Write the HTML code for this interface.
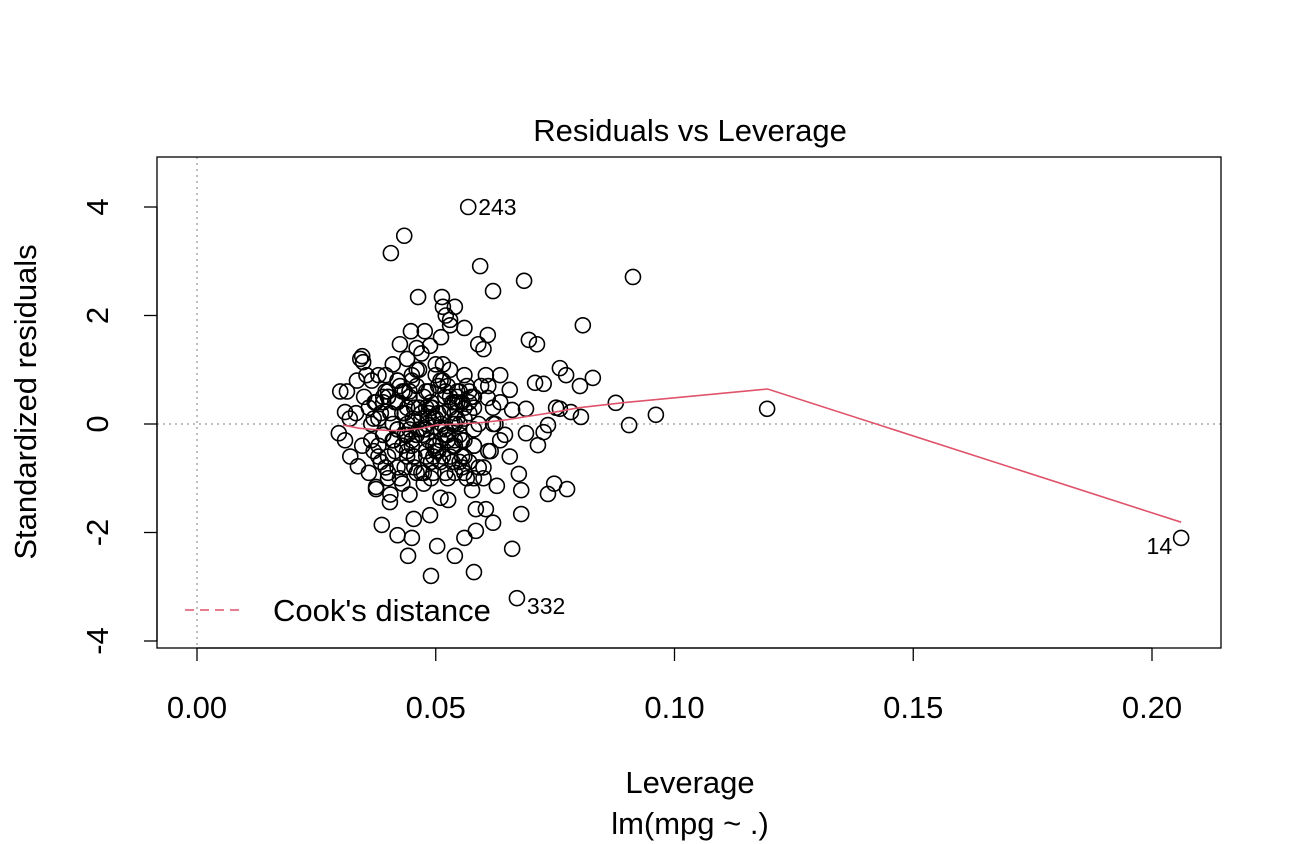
<!DOCTYPE html>
<html><head><meta charset="utf-8"><style>
html,body{margin:0;padding:0;background:#fff}
svg{display:block;font-family:"Liberation Sans",Arial,sans-serif}
</style></head><body>
<svg id="chart" width="1302" height="844" viewBox="0 0 1302 844" xmlns="http://www.w3.org/2000/svg">
<rect x="0" y="0" width="1302" height="844" fill="#fff"/>
<text x="690" y="141" font-size="31" text-anchor="middle">Residuals vs Leverage</text>
<text x="690" y="793" font-size="31" text-anchor="middle">Leverage</text>
<text x="690" y="834" font-size="31" text-anchor="middle">lm(mpg ~ .)</text>
<text transform="translate(36,402) rotate(-90)" font-size="31" text-anchor="middle">Standardized residuals</text>
<g id="grid"></g>
<g id="axes"></g>
<g id="pts"></g>
<g id="smooth"></g>
<g id="labels"></g>
<rect x="157" y="157" width="1064" height="491" fill="none" stroke="#000" stroke-width="1.3"/>
<g>
<line x1="185" y1="610" x2="242" y2="610" stroke="#DF536B" stroke-width="1.5" stroke-dasharray="9,6"/>
<text x="273" y="621" font-size="31">Cook's distance</text>
</g>
</svg>
<script>
const xTicks=[0,0.05,0.10,0.15,0.20];
const xTickLabels=["0.00","0.05","0.10","0.15","0.20"];
const yTicks=[-4,-2,0,2,4];
const yTickLabels=["-4","-2","0","2","4"];
const leverage=[0.0568,0.0434,0.0406,0.0593,0.0913,0.0685,0.062,0.0463,0.0513,0.054,0.0515,0.0521,0.053,0.053,0.0808,0.056,0.0448,0.0477,0.0609,0.0511,0.0695,0.0712,0.0589,0.060,0.0425,0.0488,0.0346,0.0348,0.076,0.0773,0.0829,0.0802,0.0877,0.0961,0.0905,0.1194,0.0804,0.076,0.2061,0.067,0.049,0.058,0.066,0.054,0.0442,0.0503,0.056,0.045,0.042,0.0387,0.0584,0.062,0.0679,0.0605,0.0584,0.0454,0.0488,0.0674,0.0679,0.0735,0.0748,0.0775,0.0628,0.0576,0.0526,0.051,0.0404,0.0375,0.0726,0.0735,0.0714,0.0689,0.0635,0.0752,0.0783,0.0726,0.0708,0.0655,0.0635,0.066,0.0689,0.0609,
0.030,0.0314,0.031,0.032,0.0297,0.031,0.0321,0.0337,0.0346,0.0335,0.0366,0.035,
0.036,0.037,0.038,0.039,0.040,0.041,0.042,0.043,0.044,0.045,0.046,0.047,0.048,0.049,0.050,0.051,0.052,0.053,0.054,0.055,0.056,0.057,0.058,
0.036,0.037,0.038,0.039,0.040,0.041,0.042,0.043,0.044,0.045,0.046,0.047,0.048,0.049,0.050,0.051,0.052,0.053,0.054,0.055,0.056,0.057,0.058,
0.0365,0.0375,0.0385,0.0395,0.0405,0.0415,0.0425,0.0435,0.0445,0.0455,0.0465,0.0475,0.0485,0.0495,0.0505,0.0515,0.0525,0.0535,0.0545,0.0555,0.0565,
0.0365,0.0375,0.0385,0.0395,0.0405,0.0415,0.0425,0.0435,0.0445,0.0455,0.0465,0.0475,0.0485,0.0495,0.0505,0.0515,0.0525,0.0535,0.0545,0.0555,0.0565,
0.038,0.040,0.042,0.044,0.046,0.048,0.050,0.052,0.054,0.056,0.058,0.060,0.062,
0.038,0.040,0.042,0.044,0.046,0.048,0.050,0.052,0.054,0.056,0.058,0.060,0.062,
0.039,0.041,0.043,0.045,0.047,0.049,0.051,0.053,0.055,0.057,0.059,0.061,
0.039,0.041,0.043,0.045,0.047,0.049,0.051,0.053,0.055,0.057,0.059,0.061,
0.040,0.042,0.044,0.046,0.048,0.050,0.052,0.054,0.056,0.058,
0.040,0.042,0.044,0.046,0.048,0.050,0.052,0.054,0.056,0.058,
0.0435,0.0455,0.0475,0.0495,0.0515,0.0535,0.0555,0.0445,0.0465,0.0485,0.0505,0.0525,0.0545,
0.0435,0.0455,0.0475,0.0495,0.0515,0.0535,0.0555,0.0445,0.0465,0.0485,0.0505,0.0525,0.0545,
0.0605,0.0625,0.0645,0.0615,0.0635,0.0595,0.0575,0.0655,0.0342,0.0355,0.0372,0.0333,0.0395,0.0412,0.0452,0.0472,0.0492,0.0512];
const residual=[4.0,3.47,3.15,2.91,2.71,2.64,2.45,2.34,2.34,2.16,2.16,2.0,1.92,1.82,1.82,1.77,1.71,1.71,1.64,1.6,1.55,1.47,1.47,1.38,1.47,1.44,1.25,1.14,1.03,0.9,0.85,0.7,0.39,0.17,-0.02,0.28,0.13,0.28,-2.1,-3.21,-2.8,-2.73,-2.3,-2.43,-2.43,-2.25,-2.1,-2.1,-2.05,-1.86,-1.97,-1.82,-1.66,-1.57,-1.57,-1.75,-1.68,-0.92,-1.22,-1.29,-1.1,-1.2,-1.14,-1.22,-1.4,-1.36,-1.44,-1.16,-0.15,-0.02,-0.39,-0.17,-0.3,0.3,0.22,0.74,0.76,0.63,0.9,0.26,0.28,0.48,
0.6,0.6,0.22,0.1,-0.17,-0.3,-0.6,-0.78,-0.4,0.8,0.8,0.5,
0.3,-0.5,0.9,-0.2,0.6,1.1,-0.8,0.2,1.2,-0.3,0.7,1.3,-0.6,0.4,0.9,-0.1,0.5,1.0,-0.4,0.6,0.3,-0.7,0.5,
-0.9,0.1,-0.4,0.5,-1.0,-0.3,0.4,-1.1,-0.2,0.8,-0.9,0.2,-0.5,-1.0,0.1,-0.7,-0.2,0.3,-0.9,0.0,-0.6,0.2,-0.4,
0.0,0.4,-0.7,0.9,0.2,-0.5,0.7,-0.2,0.5,-0.8,0.3,-0.1,0.6,-0.6,0.2,0.8,-0.3,0.4,0.1,-0.8,0.7,
-0.3,-1.2,0.2,-0.8,-1.3,0.4,-1.0,0.6,-1.3,-0.6,1.0,-1.1,0.1,-0.9,-0.5,1.1,-1.0,-0.4,0.5,-0.3,-1.0,
0.1,0.5,-0.1,0.0,-0.2,0.3,0.1,-0.1,0.2,0.1,-0.4,-0.8,0.0,
-0.6,-0.9,0.8,-0.6,1.0,0.0,-0.5,-0.9,0.0,-0.9,0.3,-1.0,0.3,
0.4,0.0,0.6,-0.4,0.1,0.3,-0.3,0.5,-0.2,0.4,0.0,-0.5,
-0.2,-0.3,-0.4,0.9,-0.9,-0.7,0.8,-0.6,-0.7,0.6,-0.8,0.7,
-0.6,0.8,-0.5,1.4,-0.1,1.1,0.6,-0.3,0.9,-1.0,
0.5,-0.1,0.3,-0.2,0.6,-0.4,-0.2,0.4,-0.3,-0.1,
0.2,-0.6,0.5,-0.4,0.2,-0.7,0.4,-0.1,0.3,-0.3,0.7,-0.2,0.4,
-0.8,0.3,-0.9,0.1,-0.6,0.0,-0.6,0.6,-0.1,0.2,-0.5,0.7,0.6,
0.9,0.0,-0.2,-0.5,0.4,0.7,0.5,-0.6,1.2,0.9,0.4,0.2,0.6,-0.3,0.1,-0.2,0.3,0.0];
const smoothLev=[0.0306,0.034,0.040,0.043,0.047,0.050,0.055,0.060,0.065,0.070,0.075,0.080,0.090,0.1195,0.2061];
const smoothRes=[-0.02,-0.08,-0.12,-0.12,-0.08,-0.02,0.0,0.03,0.08,0.15,0.22,0.3,0.4,0.645,-1.81];
const labelNames=["243","332","14"];
const labelLev=[0.0568,0.067,0.2061];
const labelRes=[4.0,-3.21,-2.1];

const NS="http://www.w3.org/2000/svg";
const X=v=>197+v*4775;
const Y=v=>424-v*54.25;
function mk(tag,attrs,parent){const e=document.createElementNS(NS,tag);for(const k in attrs)e.setAttribute(k,attrs[k]);parent.appendChild(e);return e;}
const axes=document.getElementById('axes'),grid=document.getElementById('grid'),pts=document.getElementById('pts'),sm=document.getElementById('smooth'),lab=document.getElementById('labels');
let gl=mk('line',{x1:X(0),x2:X(0),y1:157,y2:648,stroke:'#aaa','stroke-width':1.5,'stroke-dasharray':'2,4'},grid);


gl=mk('line',{x1:157,x2:1221,y1:Y(0),y2:Y(0),stroke:'#aaa','stroke-width':1.5,'stroke-dasharray':'2,4'},grid);


let ax=mk('line',{x1:X(xTicks[0]),x2:X(xTicks[xTicks.length-1]),y1:648,y2:648,stroke:'#000','stroke-width':1.3},axes);


xTicks.forEach((t,i)=>{
 const l=mk('line',{x1:X(t),x2:X(t),y1:648,y2:661,stroke:'#000','stroke-width':1.3},axes);
 
 
 const tx=mk('text',{x:X(t),y:718,'font-size':31,'text-anchor':'middle'},axes);tx.textContent=xTickLabels[i];
 
 
});
ax=mk('line',{x1:157,x2:157,y1:Y(yTicks[0]),y2:Y(yTicks[yTicks.length-1]),stroke:'#000','stroke-width':1.3},axes);


yTicks.forEach((t,i)=>{
 const l=mk('line',{x1:144,x2:157,y1:Y(t),y2:Y(t),stroke:'#000','stroke-width':1.3},axes);
 
 
 const tx=mk('text',{transform:`translate(108,${Y(t)}) rotate(-90)`,'font-size':31,'text-anchor':'middle'},axes);tx.textContent=yTickLabels[i];
 
 
});
leverage.forEach((v,i)=>{
 const c=mk('circle',{cx:X(v),cy:Y(residual[i]),r:7.5,fill:'none',stroke:'#000','stroke-width':1.6},pts);
 
 
});
const p=mk('polyline',{points:smoothLev.map((v,i)=>X(v)+','+Y(smoothRes[i])).join(' '),fill:'none',stroke:'#DF536B','stroke-width':1.6},sm);


labelNames.forEach((n,i)=>{
 const right=i===2;
 const t=mk('text',{x:X(labelLev[i])+(right?-9:10),y:Y(labelRes[i])+(i===0?8:16),'font-size':23,'text-anchor':right?'end':'start'},lab);
 t.textContent=n;
 
 
});
</script>
</body></html>
